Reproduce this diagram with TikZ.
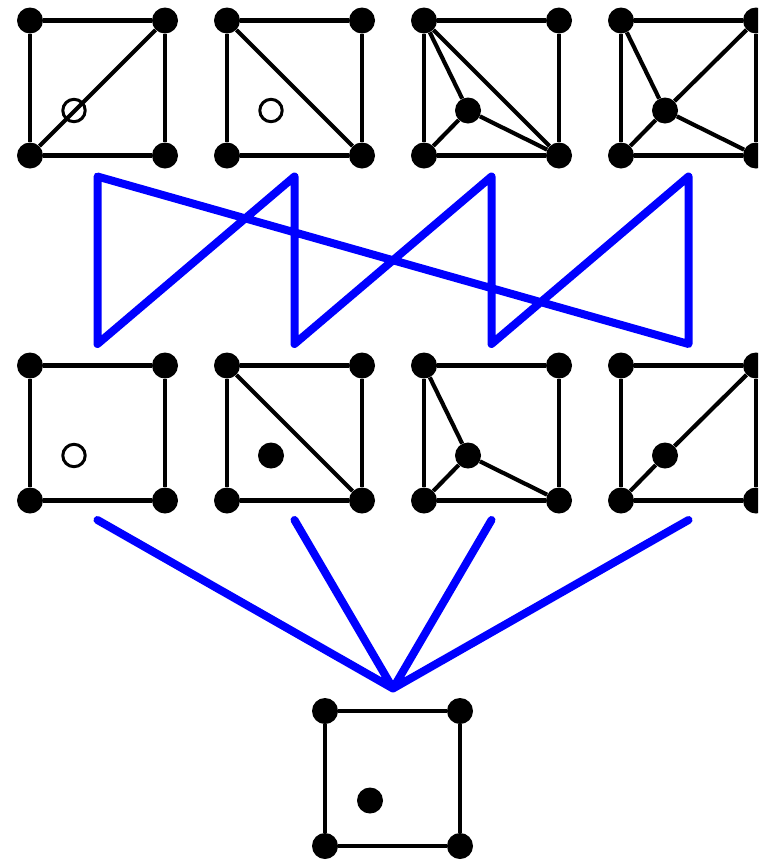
\documentclass[tikz,border=0pt]{standalone}
\begin{document}
\begin{tikzpicture}[x=0.75pt,y=-0.75pt,
  dot/.style={circle,fill=black,inner sep=0pt,minimum size=19.5pt},
  hollow/.style={circle,draw=black,line width=2.25pt,inner sep=0pt,minimum size=16.8pt},
  edge/.style={line width=3.1pt,black},
  link/.style={line width=6pt,color={rgb,255:red,0;green,0;blue,255},line cap=round,line join=round}]
\useasboundingbox (0,0) rectangle (758,861);
\clip (0,0) rectangle (758,861);
% top row and middle row squares
\foreach \i/\x in {1/30,2/227,3/424,4/621}{
  \node[dot] (t\i a) at (\x,20.5) {};
  \node[dot] (t\i b) at (\x+135,20.5) {};
  \node[dot] (t\i c) at (\x,155.5) {};
  \node[dot] (t\i d) at (\x+135,155.5) {};
  \draw[edge] (t\i a) -- (t\i b) (t\i b) -- (t\i d) (t\i d) -- (t\i c) (t\i c) -- (t\i a);
  \node[dot] (m\i a) at (\x,365.5) {};
  \node[dot] (m\i b) at (\x+135,365.5) {};
  \node[dot] (m\i c) at (\x,500.5) {};
  \node[dot] (m\i d) at (\x+135,500.5) {};
  \draw[edge] (m\i a) -- (m\i b) (m\i b) -- (m\i d) (m\i d) -- (m\i c) (m\i c) -- (m\i a);
}
% top row interiors
\node[hollow] (t1p) at (74,110.5) {};
\draw[edge] (t1c) -- (t1b);
\node[hollow] (t2p) at (271,110.5) {};
\draw[edge] (t2a) -- (t2d);
\node[dot] (t3p) at (468,110.5) {};
\draw[edge] (t3a) -- (t3p) (t3c) -- (t3p) (t3d) -- (t3p) (t3a) -- (t3d);
\node[dot] (t4p) at (665,110.5) {};
\draw[edge] (t4a) -- (t4p) (t4b) -- (t4p) (t4c) -- (t4p) (t4d) -- (t4p);
% middle row interiors
\node[hollow] (m1p) at (74,455.5) {};
\node[dot] (m2p) at (271,455.5) {};
\draw[edge] (m2a) -- (m2d);
\node[dot] (m3p) at (468,455.5) {};
\draw[edge] (m3a) -- (m3p) (m3c) -- (m3p) (m3d) -- (m3p);
\node[dot] (m4p) at (665,455.5) {};
\draw[edge] (m4c) -- (m4p) (m4p) -- (m4b);
% bottom square
\node[dot] (ba) at (325,711) {};
\node[dot] (bb) at (460,711) {};
\node[dot] (bc) at (325,846) {};
\node[dot] (bd) at (460,846) {};
\draw[edge] (ba) -- (bb) (bb) -- (bd) (bd) -- (bc) (bc) -- (ba);
\node[dot] (bp) at (370,800.5) {};
% blue zigzag
\coordinate (z1a) at (97.5,176.5);
\coordinate (z1b) at (97.5,344);
\coordinate (z2a) at (294.5,176.5);
\coordinate (z2b) at (294.5,344);
\coordinate (z3a) at (491.5,176.5);
\coordinate (z3b) at (491.5,344);
\coordinate (z4a) at (688.5,176.5);
\coordinate (z4b) at (688.5,344);
\draw[link] (z1a) -- (z1b) -- (z2a) -- (z2b) -- (z3a) -- (z3b) -- (z4a) -- (z4b) -- cycle;
% blue fan
\coordinate (f1) at (97.5,520);
\coordinate (f2) at (294.5,520);
\coordinate (f3) at (491.5,520);
\coordinate (f4) at (688.5,520);
\coordinate (apex) at (393,688.5);
\draw[link] (f1) -- (apex) (f2) -- (apex) (f3) -- (apex) (f4) -- (apex);
\end{tikzpicture}
\end{document}
